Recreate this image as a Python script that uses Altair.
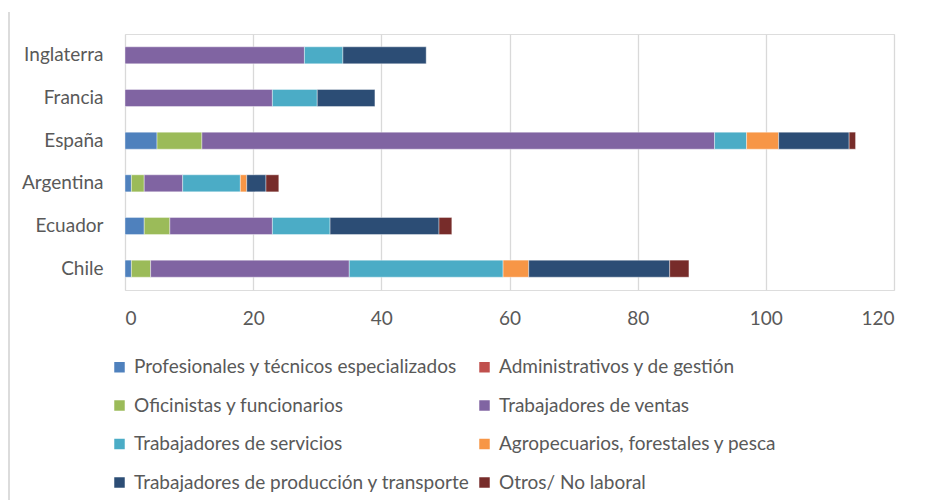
import altair as alt
import pandas as pd

countries = ["Inglaterra", "Francia", "España", "Argentina", "Ecuador", "Chile"]
categories = [
    "Profesionales y técnicos especializados",
    "Administrativos y de gestión",
    "Oficinistas y funcionarios",
    "Trabajadores de ventas",
    "Trabajadores de servicios",
    "Agropecuarios, forestales y pesca",
    "Trabajadores de producción y transporte",
    "Otros/ No laboral",
]
# values per category, in the order of `countries`
profesionales = [0, 0, 5, 1, 3, 1]
administrativos = [0, 0, 0, 0, 0, 0]
oficinistas = [0, 0, 7, 2, 4, 3]
ventas = [28, 23, 80, 6, 16, 31]
servicios = [6, 7, 5, 9, 9, 24]
agropecuarios = [0, 0, 5, 1, 0, 4]
produccion = [13, 9, 11, 3, 17, 22]
otros = [0, 0, 1, 2, 2, 3]
x_ticks = [0, 20, 40, 60, 80, 100, 120]
colors = ["#4F81BD", "#C0504D", "#9BBB59", "#8064A2", "#4BACC6",
          "#F79646", "#2C4D75", "#772C2A"]

series = [profesionales, administrativos, oficinistas, ventas, servicios,
          agropecuarios, produccion, otros]
rows = []
for ci, (cat, vals) in enumerate(zip(categories, series)):
    for country, v in zip(countries, vals):
        if v > 0:
            rows.append({"pais": country, "categoria": cat, "valor": v, "idx": ci})
df = pd.DataFrame(rows)

FONT = "Lato"
GREY = "#595959"

bars = alt.Chart(df).mark_bar(stroke="white", strokeWidth=0.4).encode(
    y=alt.Y("pais:N", sort=countries,
            scale=alt.Scale(paddingInner=0.6, paddingOuter=0.3),
            axis=alt.Axis(title=None, domain=False, ticks=False, labelFontSize=19,
                          labelColor=GREY, labelFont=FONT, labelPadding=22)),
    x=alt.X("valor:Q", stack="zero",
            scale=alt.Scale(domain=[0, 120], nice=False),
            axis=alt.Axis(title=None, values=x_ticks, domain=False, ticks=False,
                          grid=True, gridColor="#D9D9D9", gridWidth=1.3,
                          labelFontSize=19, labelColor=GREY, labelFont=FONT,
                          labelPadding=19)),
    color=alt.Color("categoria:N", sort=categories,
                    scale=alt.Scale(domain=categories, range=colors),
                    legend=alt.Legend(title=None, orient="none", legendX=-15, legendY=323.5,
                                      direction="horizontal",
                                      columns=2, columnPadding=5, rowPadding=18.5,
                                      symbolType="square", symbolSize=110,
                                      symbolStrokeWidth=0, labelFontSize=19,
                                      labelFont=FONT, labelColor=GREY, labelOffset=5,
                                      labelLimit=400)),
    order=alt.Order("idx:Q"),
)

frame = alt.Chart(pd.DataFrame({"a": [0]})).mark_rule(color="#D0D0D0", strokeWidth=1.5).encode(
    x=alt.value(-116), y=alt.value(-22), y2=alt.value(474)
)

chart = alt.layer(frame, bars).properties(
    width=769, height=256,
    autosize=alt.AutoSizeParams(type="none"),
    padding={"left": 117, "top": 26, "right": 20, "bottom": 210},
).configure_view(stroke=None).configure(background="white")

chart.save("out.html", embed_options={"renderer": "svg", "actions": False})
